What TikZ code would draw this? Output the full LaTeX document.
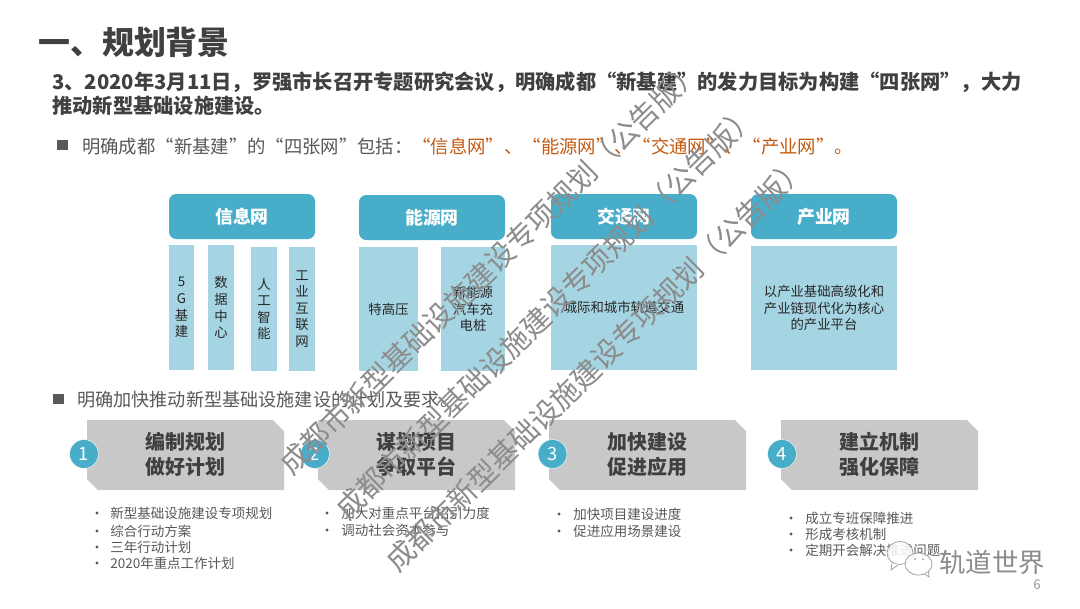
\documentclass[tikz,border=0pt]{standalone}
\usepackage{fontspec}
\setmainfont{Noto Sans CJK SC}
\usepackage{xcolor}
\usepackage{tikz}
\usetikzlibrary{shapes, positioning, calc}
\definecolor{headblue}{HTML}{48ADC8}
\definecolor{barblue}{HTML}{A5D5E3}
\definecolor{plategray}{HTML}{C8C8C8}
\definecolor{darktext}{HTML}{404040}
\definecolor{softtext}{HTML}{595959}
\definecolor{netorange}{HTML}{C55A11}
\definecolor{pagegray}{HTML}{8C9BA8}
\tikzset{
    headbox/.style={text=white, font=\fontsize{12.7}{15}\selectfont\bfseries},
    barlabel/.style={align=center, text=black!85, font=\fontsize{9.5}{11.8}\selectfont},
    platelabel/.style={align=center, text=darktext, font=\fontsize{14.2}{17.8}\selectfont\bfseries},
    numdot/.style={circle, fill=headblue, draw=white, line width=0.3pt, minimum size=0.72cm, inner sep=0pt, text=white, font=\fontsize{13}{15}\selectfont},
    listline/.style={anchor=west, inner sep=0pt, text=softtext, font=\fontsize{9.6}{11}\selectfont},
    listdot/.style={circle, fill=softtext, minimum size=2.2pt, inner sep=0pt},
    sqmark/.style={fill=softtext, minimum size=0.27cm, inner sep=0pt},
    stampline/.style={rotate=44.5, inner sep=0pt, text=black!45, font=\fontsize{20.5}{24}\selectfont},
    bubble/.style={draw=black!40, fill=white, fill opacity=0.85, line width=0.5pt},
}
\begin{document}
\begin{tikzpicture}[x=0.025cm, y=-0.025cm]
    \useasboundingbox (0,0) rectangle (1080,608);
    \fill[white] (0,0) rectangle (1080,608);

    % Heading block
    \node[anchor=west, inner sep=0pt, text=darktext, font=\fontsize{22.7}{26}\selectfont\bfseries] (title) at (38,42) {一、规划背景};
    \node[anchor=west, inner sep=0pt, text=darktext, font=\fontsize{14.4}{17}\selectfont\bfseries] (lineA) at (52,82) {3、2020年3月11日，罗强市长召开专题研究会议，明确成都“新基建”的发力目标为构建“四张网”，大力};
    \node[anchor=west, inner sep=0pt, text=darktext, font=\fontsize{14.4}{17}\selectfont\bfseries] (lineB) at (52,106) {推动新型基础设施建设。};

    \node[sqmark] (markA) at (62.5,145) {};
    \node[anchor=west, inner sep=0pt, text=softtext, font=\fontsize{13.05}{15}\selectfont] (netline) at (82,146) {明确成都“新基建”的“四张网”包括：\textcolor{netorange}{“信息网”、“能源网”、“交通网”、“产业网”。}};

    % Four nets
    \foreach \nm/\xa/\ya/\txt in {a/169/194/信息网, b/359/195/能源网, c/551/194/交通网, d/751/194/产业网} {
        \fill[headblue, rounded corners=1.8mm] (\xa,\ya) rectangle (\xa+146,\ya+45);
        \node[headbox] (head\nm) at (\xa+73,\ya+22.5) {\txt};
    }
    \foreach \nm/\xa/\xb/\ya/\yb/\txt in {
        a/169/194/245/370/{5\\G\\基\\建},
        b/208/234/245/370/{数\\据\\中\\心},
        c/251/277/247/371/{人\\工\\智\\能},
        d/289/315/247/371/{工\\业\\互\\联\\网},
        e/359/418/247/371/{特高压},
        f/441/505/247/371/{新能源\\汽车充\\电桩},
        g/551/697/245/370/{城际和城市轨道交通},
        h/751/897/246/370/{以产业基础高级化和\\产业链现代化为核心\\的产业平台}} {
        \fill[barblue] (\xa,\ya) rectangle (\xb,\yb);
        \node[barlabel] (bar\nm) at ({(\xa+\xb)/2},{(\ya+\yb)/2}) {\txt};
    }

    \node[sqmark] (markB) at (58.5,399) {};
    \node[anchor=west, inner sep=0pt, text=softtext, font=\fontsize{12.9}{15}\selectfont] (planline) at (77,400) {明确加快推动新型基础设施建设的计划及要求。};

    % Plates with numbers
    \foreach \nm/\xa/\cx/\txt in {1/87/84/{编制规划\\做好计划}, 2/318/315/{谋划项目\\争取平台}, 3/549/552.5/{加快建设\\促进应用}, 4/781/782/{建立机制\\强化保障}} {
        \fill[plategray] (\xa,420) -- (\xa+186,420) -- (\xa+197,431) -- (\xa+197,490) -- (\xa+11,490) -- (\xa,479) -- cycle;
        \node[platelabel] (plate\nm) at (\xa+98.5,454.5) {\txt};
        \node[numdot] (num\nm) at (\cx,454) {\nm};
    }

    % Lists under the plates
    \foreach \nm/\xd/\xt/\yy/\txt in {
        a/97/110/513/新型基础设施建设专项规划,
        b/97/110/531/综合行动方案,
        c/97/110/547/三年行动计划,
        d/97/110/563/2020年重点工作计划,
        e/327/341/513/加大对重点平台招引力度,
        f/327/341/530/调动社会资本参与,
        g/559/573/514/加快项目建设进度,
        h/559/573/531/促进应用场景建设,
        i/791/805/518/成立专班保障推进,
        j/791/805/534/形成考核机制,
        k/791/805/550/定期开会解决推进问题} {
        \node[listdot] (dot\nm) at (\xd,\yy) {};
        \node[listline] (item\nm) at (\xt,\yy) {\txt};
    }

    % Stamps across the page
    \foreach \nm/\xc/\yc in {a/490/267, b/546/312, c/596/364} {
        \node[stampline] (stamp\nm) at (\xc,\yc) {成都市新型基础设施建设专项规划（公告版）};
    }

    % Account mark
    \draw[bubble] (900,553) ellipse (13 and 11.5);
    \draw[bubble] (892,563) -- (891,570) -- (898,565);
    \draw[bubble] (918.5,564) ellipse (13.5 and 11);
    \draw[bubble] (925,574) -- (929,577) -- (928.5,572);
    \fill[black!40] (915,559) circle (1) (923,559) circle (1);
    \node[anchor=west, inner sep=0pt, text=black!45, font=\fontsize{18.8}{22}\selectfont] (brand) at (939,562) {轨道世界};
    \node[inner sep=0pt, text=pagegray, font=\fontsize{9.5}{11}\selectfont] (pagenum) at (1037,585) {6};
\end{tikzpicture}
\end{document}
